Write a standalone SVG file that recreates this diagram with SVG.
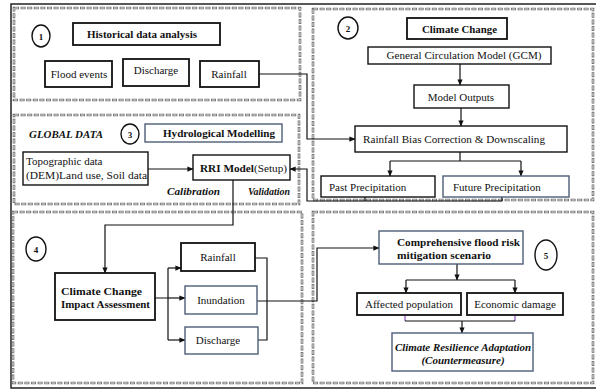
<svg xmlns="http://www.w3.org/2000/svg" width="596" height="390" viewBox="0 0 596 390">
<style>
text{font-family:'Liberation Serif','DejaVu Serif',serif;font-size:11px;fill:#111}
.b{font-weight:bold}
.bi{font-weight:bold;font-style:italic}
.c{text-anchor:middle}
.box{fill:#fff;stroke:#111;stroke-width:1.4}
.blue{fill:#fff;stroke:#4e5d78;stroke-width:1.4}
.thick{fill:#fff;stroke:#111;stroke-width:1.8}
.dout{fill:none;stroke:#6a6a6a;stroke-width:2.6;stroke-dasharray:5 1.6}
.din{fill:none;stroke:#fff;stroke-width:0.9;stroke-dasharray:3.4 3.2;stroke-dashoffset:-0.8}
.circ{fill:#fff;stroke:#111;stroke-width:1.4}
.ln{fill:none;stroke:#111;stroke-width:1.2}
.ar{fill:none;stroke:#111;stroke-width:1.2;marker-end:url(#ah)}
</style>
<defs>
<marker id="ah" viewBox="0 0 8 8" refX="7.5" refY="4" markerWidth="6" markerHeight="6" markerUnits="userSpaceOnUse" orient="auto">
<path d="M0,0.5 L8,4 L0,7.5 z" fill="#111"/>
</marker>
</defs>
<rect x="0" y="0" width="596" height="390" fill="#fff"/>
<rect x="11" y="4" width="600" height="384" fill="none" stroke="#222" stroke-width="1.5"/>
<g id="frames">
<rect class="dout" x="14" y="8" width="286" height="92"/><rect class="din" x="14" y="8" width="286" height="92"/>
<rect class="dout" x="313" y="9" width="280" height="191"/><rect class="din" x="313" y="9" width="280" height="191"/>
<rect class="dout" x="14" y="115" width="285" height="89"/><rect class="din" x="14" y="115" width="285" height="89"/>
<rect class="dout" x="13" y="212" width="289" height="171"/><rect class="din" x="13" y="212" width="289" height="171"/>
<rect class="dout" x="313" y="212" width="280" height="171"/><rect class="din" x="313" y="212" width="280" height="171"/>
</g>
<g id="connectors">
<path class="ar" d="M259,74 H307 V139 H355"/>
<path class="ar" d="M460,64 V85"/>
<path class="ar" d="M461,108 V126"/>
<path class="ln" d="M460,152 V161 M390,161 H521"/>
<path class="ar" d="M390,161 V176"/>
<path class="ar" d="M521,161 V176"/>
<path class="ln" d="M365,197 V201 M502,197 V201"/>
<path class="ar" d="M502,201 H307 V169 H290"/>
<path class="ar" d="M148,169 H193"/>
<path class="ar" d="M233,180 V225 H105 V273"/>
<path class="ln" d="M155,298 H168 M168,268 V340"/>
<path class="ar" d="M168,268 H181"/>
<path class="ar" d="M168,298 H185"/>
<path class="ar" d="M168,340 H185"/>
<path class="ln" d="M255,258 H267 V340 H258"/>
<path class="ar" d="M257,301 H317 V248 H379"/>
<path class="ar" d="M457,264 V280"/>
<path class="ln" d="M406,280 H515"/>
<path class="ar" d="M406,280 V293"/>
<path class="ar" d="M515,280 V293"/>
<path d="M405,315 V321 M515,315 V321" fill="none" stroke="#8a4fc0" stroke-width="1.2"/>
<path class="ln" d="M405,321 H515"/>
<path class="ar" d="M462,321 V333"/>
</g>
<g font-family="Liberation Serif, DejaVu Serif, serif">
<g id="n1-circle"><ellipse class="circ" cx="41" cy="36" rx="9" ry="11"/><text class="b c" x="41" y="40" style="font-size:9px">1</text></g>
<g id="n-historical"><rect class="thick" x="73" y="23" width="147" height="22"/><text class="b" x="87" y="38" textLength="110" lengthAdjust="spacingAndGlyphs">Historical data analysis</text></g>
<g id="n-flood"><rect class="thick" x="45" y="61" width="67" height="26"/><text class="c" x="79" y="78">Flood events</text></g>
<g id="n-discharge1"><rect class="thick" x="123" y="59" width="66" height="27"/><text class="c" x="156" y="74">Discharge</text></g>
<g id="n-rainfall1"><rect class="thick" x="200" y="61" width="59" height="26"/><text class="c" x="229" y="78">Rainfall</text></g>
<g id="n2-circle"><ellipse class="circ" cx="348" cy="28" rx="10" ry="11"/><text class="b c" x="348" y="32" style="font-size:9px">2</text></g>
<g id="n-climate"><rect class="thick" x="407" y="18" width="100" height="21"/><text class="b" x="422" y="33" textLength="75" lengthAdjust="spacingAndGlyphs">Climate Change</text></g>
<g id="n-gcm"><rect class="box" x="368" y="47" width="183" height="17"/><text class="c" x="464" y="59" textLength="155" lengthAdjust="spacingAndGlyphs">General Circulation Model (GCM)</text></g>
<g id="n-outputs"><rect class="box" x="414" y="85" width="95" height="23"/><text class="c" x="461" y="101">Model Outputs</text></g>
<g id="n-bias"><rect class="box" x="355" y="126" width="212" height="26"/><text x="363" y="143" textLength="182" lengthAdjust="spacingAndGlyphs">Rainfall Bias Correction &amp; Downscaling</text></g>
<g id="n-past"><rect class="box" x="321" y="176" width="114" height="21"/><text x="329" y="191">Past Precipitation</text></g>
<g id="n-future"><rect class="blue" x="443" y="176" width="126" height="21"/><text x="453" y="191">Future Precipitation</text></g>
<g id="n-global"><text class="bi" x="29" y="138" textLength="74" lengthAdjust="spacingAndGlyphs">GLOBAL DATA</text></g>
<g id="n3-circle"><ellipse class="circ" cx="130" cy="134" rx="9" ry="10"/><text class="b c" x="130" y="138" style="font-size:9px">3</text></g>
<g id="n-hydro"><rect class="blue" x="145" y="124" width="137" height="18"/><text class="b" x="163" y="137" textLength="112" lengthAdjust="spacingAndGlyphs">Hydrological Modelling</text></g>
<g id="n-topo"><rect class="box" x="23" y="152" width="125" height="33"/><text x="26" y="165">Topographic data</text><text x="26" y="179" textLength="121" lengthAdjust="spacingAndGlyphs">(DEM)Land use, Soil data</text></g>
<g id="n-rri"><rect class="box" x="193" y="155" width="97" height="25"/><text x="200" y="172" textLength="87" lengthAdjust="spacingAndGlyphs"><tspan class="b">RRI Model</tspan>(Setup)</text></g>
<g id="n-calib"><text class="bi" x="167" y="195" textLength="53" lengthAdjust="spacingAndGlyphs">Calibration</text></g>
<g id="n-valid"><text class="bi" x="248" y="195" textLength="42" lengthAdjust="spacingAndGlyphs">Validation</text></g>
<g id="n4-circle"><ellipse class="circ" cx="36" cy="249" rx="10" ry="12"/><text class="b c" x="36" y="253" style="font-size:9px">4</text></g>
<g id="n-ccia"><rect class="thick" x="55" y="273" width="100" height="47"/><text class="b" x="61" y="295" textLength="81" lengthAdjust="spacingAndGlyphs">Climate Change</text><text class="b" x="61" y="308" textLength="89" lengthAdjust="spacingAndGlyphs">Impact Assessment</text></g>
<g id="n-rainfall2"><rect class="thick" x="181" y="243" width="74" height="28"/><text class="c" x="218" y="261">Rainfall</text></g>
<g id="n-inundation"><rect class="blue" x="185" y="286" width="72" height="28"/><text class="c" x="221" y="304">Inundation</text></g>
<g id="n-discharge2"><rect class="blue" x="185" y="327" width="73" height="27"/><text class="c" x="218" y="344">Discharge</text></g>
<g id="n-comprehensive"><rect class="blue" x="379" y="231" width="144" height="33"/><text class="b" x="397" y="246" textLength="123" lengthAdjust="spacingAndGlyphs">Comprehensive flood risk</text><text class="b" x="397" y="259" textLength="94" lengthAdjust="spacingAndGlyphs">mitigation  scenario</text></g>
<g id="n5-circle"><ellipse class="circ" cx="546" cy="255" rx="11" ry="15"/><text class="b c" x="546" y="259" style="font-size:9px">5</text></g>
<g id="n-affected"><rect class="thick" x="357" y="293" width="104" height="22"/><text class="c" x="409" y="308">Affected population</text></g>
<g id="n-economic"><rect class="thick" x="467" y="293" width="96" height="22"/><text class="c" x="515" y="308">Economic damage</text></g>
<g id="n-resilience"><rect class="blue" x="392" y="333" width="141" height="38"/><text class="bi c" x="463" y="351" textLength="136" lengthAdjust="spacingAndGlyphs">Climate Resilience Adaptation</text><text class="bi c" x="463" y="364">(Countermeasure)</text></g>
</g>
</svg>
